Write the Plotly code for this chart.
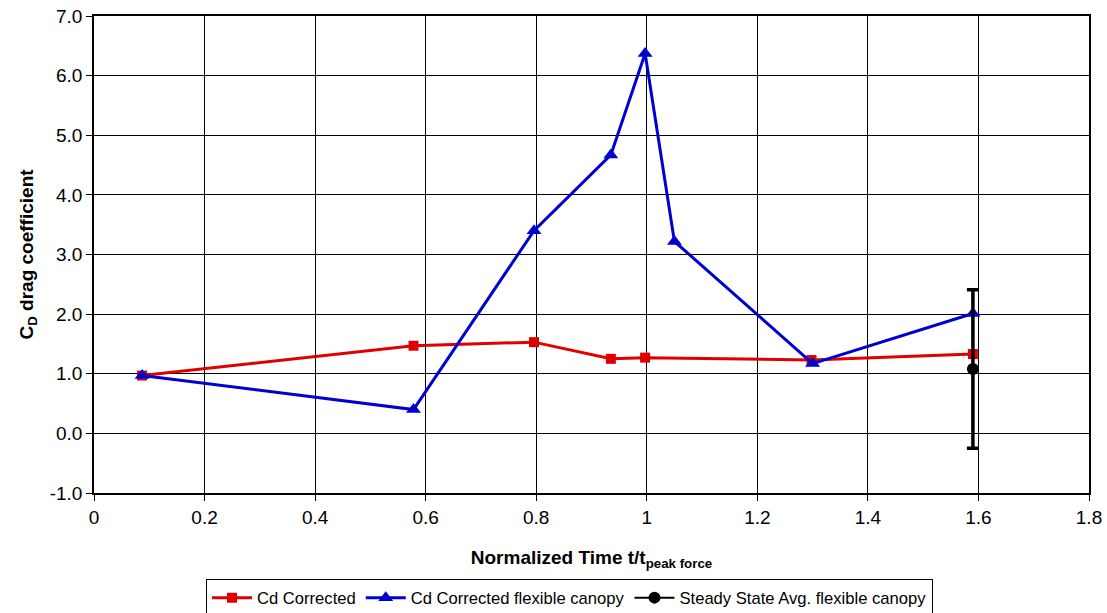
import plotly.graph_objects as go

red_x = [0.087, 0.578, 0.796, 0.935, 0.997, 1.298, 1.59]
red_y = [0.97, 1.47, 1.53, 1.25, 1.27, 1.23, 1.33]
blue_x = [0.087, 0.578, 0.796, 0.935, 0.997, 1.05, 1.30, 1.59]
blue_y = [0.97, 0.40, 3.40, 4.67, 6.37, 3.22, 1.17, 2.01]
ss_x = [1.59]
ss_y = [1.08]
ss_err = [1.33]
x_ticks = [0, 0.2, 0.4, 0.6, 0.8, 1.0, 1.2, 1.4, 1.6, 1.8]
x_labels = ["0", "0.2", "0.4", "0.6", "0.8", "1", "1.2", "1.4", "1.6", "1.8"]
y_ticks = [-1, 0, 1, 2, 3, 4, 5, 6, 7]
y_labels = ["-1.0", "0.0", "1.0", "2.0", "3.0", "4.0", "5.0", "6.0", "7.0"]

fig = go.Figure()
fig.add_trace(go.Scatter(x=red_x, y=red_y, mode="lines+markers", name="Cd Corrected",
                         line=dict(color="#e00000", width=3),
                         marker=dict(symbol="square", size=10, color="#e00000")))
fig.add_trace(go.Scatter(x=blue_x, y=blue_y, mode="lines+markers", name="Cd Corrected flexible canopy",
                         line=dict(color="#0000d0", width=3),
                         marker=dict(symbol="triangle-up", size=13, color="#0000d0")))
fig.add_trace(go.Scatter(x=ss_x, y=ss_y, mode="lines+markers", name="Steady State Avg. flexible canopy",
                         line=dict(color="black", width=2),
                         marker=dict(symbol="circle", size=12, color="black"),
                         error_y=dict(type="data", array=ss_err, visible=True, color="black",
                                      thickness=3.5, width=6)))

fig.update_layout(
    width=1107, height=613,
    paper_bgcolor="white", plot_bgcolor="white",
    margin=dict(l=94, r=18, t=16, b=120, autoexpand=False),
    font=dict(family="Liberation Sans, Arial, sans-serif", size=19, color="black"),
    showlegend=True,
    legend=dict(orientation="h", x=0.1126, xanchor="left", y=-0.181, yanchor="top",
                bordercolor="black", borderwidth=1, font=dict(size=16.6),
                itemwidth=40, tracegroupgap=0),
)
fig.update_xaxes(range=[0, 1.8], showgrid=True, gridcolor="black", gridwidth=1,
                 showline=True, linecolor="black", linewidth=1.5, mirror=True,
                 ticks="outside", ticklen=6, tickcolor="black", zeroline=False,
                 tickmode="array", tickvals=x_ticks, ticktext=x_labels, automargin=False,
                 tickfont=dict(size=19),
                 title=dict(text="<b>Normalized Time t/t<sub>peak force</sub></b>", font=dict(size=19), standoff=24))
fig.update_yaxes(range=[-1, 7], showgrid=True, gridcolor="black", gridwidth=1,
                 showline=True, linecolor="black", linewidth=1.5, mirror=True,
                 ticks="outside", ticklen=6, tickcolor="black", zeroline=False,
                 tickmode="array", tickvals=y_ticks, ticktext=y_labels, automargin=False,
                 tickfont=dict(size=19),
                 title=dict(text="<b>C<sub>D</sub> drag coefficient</b>", font=dict(size=19), standoff=11))

fig.write_html("out.html", config={"displayModeBar": False},
               post_script="document.body.style.margin='0px';")
